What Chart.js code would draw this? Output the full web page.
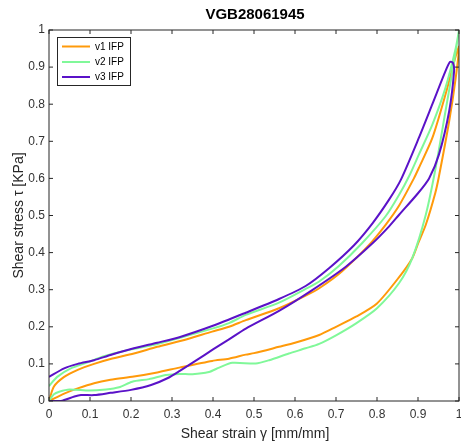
<!DOCTYPE html>
<html>
<head>
<meta charset="utf-8">
<script src="https://cdn.jsdelivr.net/npm/chart.js@4.4.1/dist/chart.umd.min.js"></script>
<style>
  html, body { margin: 0; padding: 0; background: #ffffff; }
  #wrap { width: 461px; height: 445px; position: relative; }
</style>
</head>
<body>
<div id="wrap"><canvas id="c" width="461" height="445"></canvas></div>
<script>
// ---- data ----
const chartTitle = 'VGB28061945';
const xAxisTitle = 'Shear strain \u03B3 [mm/mm]';
const yAxisTitle = 'Shear stress \u03C4 [KPa]';
const seriesNames = ['v1 IFP', 'v2 IFP', 'v3 IFP'];
const xTickLabels = ['0', '0.1', '0.2', '0.3', '0.4', '0.5', '0.6', '0.7', '0.8', '0.9', '1'];
const yTickLabels = ['0', '0.1', '0.2', '0.3', '0.4', '0.5', '0.6', '0.7', '0.8', '0.9', '1'];

const v1X = [0, 0.037, 0.07, 0.11, 0.15, 0.207, 0.264, 0.318, 0.398, 0.439, 0.48, 0.5, 0.561, 0.6, 0.659, 0.7, 0.75, 0.8, 0.854, 0.886, 0.9, 0.919, 0.942, 0.951, 0.976, 0.992, 1.0,
             0.992, 0.967, 0.935, 0.902, 0.89, 0.854, 0.821, 0.78, 0.715, 0.659, 0.626, 0.561, 0.48, 0.439, 0.398, 0.325, 0.264, 0.207, 0.15, 0.11, 0.07, 0.037, 0.012, 0];
const v1Y = [0, 0.02, 0.034, 0.048, 0.057, 0.066, 0.077, 0.09, 0.108, 0.114, 0.125, 0.129, 0.146, 0.157, 0.178, 0.2, 0.228, 0.263, 0.334, 0.385, 0.424, 0.475, 0.56, 0.605, 0.754, 0.871, 0.955,
             0.93, 0.826, 0.709, 0.628, 0.6, 0.527, 0.475, 0.42, 0.35, 0.304, 0.284, 0.25, 0.218, 0.2, 0.187, 0.163, 0.146, 0.128, 0.113, 0.1, 0.084, 0.065, 0.039, 0];

const v2X = [0, 0.012, 0.025, 0.05, 0.098, 0.139, 0.171, 0.203, 0.244, 0.285, 0.318, 0.35, 0.39, 0.415, 0.447, 0.504, 0.537, 0.585, 0.626, 0.659, 0.7, 0.75, 0.8, 0.854, 0.886, 0.919, 0.943, 0.967, 0.988, 1.0,
             0.992, 0.967, 0.935, 0.902, 0.88, 0.854, 0.821, 0.764, 0.707, 0.659, 0.626, 0.561, 0.48, 0.439, 0.398, 0.318, 0.25, 0.191, 0.134, 0.094, 0.053, 0.02, 0];
const v2Y = [0, 0.018, 0.025, 0.031, 0.028, 0.031, 0.037, 0.052, 0.059, 0.07, 0.073, 0.072, 0.078, 0.09, 0.103, 0.101, 0.11, 0.128, 0.142, 0.154, 0.177, 0.21, 0.25, 0.318, 0.385, 0.502, 0.628, 0.781, 0.915, 1.0,
             0.951, 0.844, 0.745, 0.664, 0.61, 0.556, 0.498, 0.426, 0.364, 0.322, 0.302, 0.265, 0.232, 0.21, 0.195, 0.17, 0.15, 0.137, 0.121, 0.104, 0.088, 0.065, 0.04];

const v3X = [0, 0.029, 0.062, 0.078, 0.11, 0.15, 0.2, 0.249, 0.29, 0.32, 0.36, 0.4, 0.439, 0.48, 0.561, 0.642, 0.724, 0.789, 0.829, 0.854, 0.9, 0.927, 0.951, 0.976, 0.988, 0.985, 0.978,
             0.967, 0.935, 0.902, 0.858, 0.829, 0.789, 0.744, 0.683, 0.626, 0.561, 0.48, 0.398, 0.318, 0.264, 0.207, 0.15, 0.11, 0.07, 0.037, 0];
const v3Y = [0, 0.0, 0.012, 0.016, 0.016, 0.022, 0.03, 0.043, 0.062, 0.082, 0.11, 0.139, 0.166, 0.195, 0.243, 0.299, 0.362, 0.425, 0.47, 0.502, 0.56, 0.6, 0.664, 0.781, 0.889, 0.912, 0.914,
             0.889, 0.8, 0.709, 0.596, 0.542, 0.479, 0.42, 0.358, 0.31, 0.275, 0.238, 0.202, 0.172, 0.157, 0.142, 0.124, 0.11, 0.1, 0.088, 0.065];

const seriesColors = ['#ff9a0a', '#80f899', '#5a12c8'];

function pts(xs, ys) { return xs.map((x, i) => ({ x: x, y: ys[i] })); }

const FONT = '"Liberation Sans", Arial, Helvetica, sans-serif';
const AXIS_COLOR = '#262626';

const framePlugin = {
  id: 'framePlugin',
  afterDatasetsDraw(chart) {
    const ctx = chart.ctx;
    const a = chart.chartArea;
    const xs = chart.scales.x, ys = chart.scales.y;
    ctx.save();
    ctx.strokeStyle = AXIS_COLOR;
    ctx.lineWidth = 1;
    ctx.strokeRect(a.left, a.top, a.right - a.left, a.bottom - a.top);
    const tl = 4;
    ctx.beginPath();
    xTickLabels.forEach((lab, i) => {
      const px = xs.getPixelForValue(i / 10);
      ctx.moveTo(px, a.bottom); ctx.lineTo(px, a.bottom - tl);
      ctx.moveTo(px, a.top); ctx.lineTo(px, a.top + tl);
    });
    yTickLabels.forEach((lab, i) => {
      const py = ys.getPixelForValue(i / 10);
      ctx.moveTo(a.left, py); ctx.lineTo(a.left + tl, py);
      ctx.moveTo(a.right, py); ctx.lineTo(a.right - tl, py);
    });
    ctx.stroke();

    // legend
    const lx = 57.5, ly = 37.5, lw = 73, lh = 48;
    ctx.fillStyle = '#ffffff';
    ctx.fillRect(lx, ly, lw, lh);
    ctx.strokeStyle = AXIS_COLOR;
    ctx.lineWidth = 1;
    ctx.strokeRect(lx, ly, lw, lh);
    ctx.font = '10px ' + FONT;
    ctx.textBaseline = 'middle';
    ctx.textAlign = 'left';
    const rows = [46.5, 62, 77];
    seriesNames.forEach((name, i) => {
      ctx.strokeStyle = seriesColors[i];
      ctx.lineWidth = 2;
      ctx.beginPath();
      ctx.moveTo(62, rows[i]); ctx.lineTo(90, rows[i]);
      ctx.stroke();
      ctx.fillStyle = '#000000';
      ctx.fillText(name, 95, rows[i] + 0.5);
    });
    ctx.restore();
  },
  afterDraw(chart) {
    const ctx = chart.ctx;
    const a = chart.chartArea;
    ctx.save();
    ctx.fillStyle = '#000000';
    ctx.textAlign = 'center';
    ctx.textBaseline = 'middle';
    ctx.font = 'bold 15px ' + FONT;
    ctx.fillText(chartTitle, (a.left + a.right) / 2 + 1, 15);
    ctx.fillStyle = AXIS_COLOR;
    ctx.font = '14px ' + FONT;
    ctx.fillText(xAxisTitle, (a.left + a.right) / 2 + 1, 434);
    ctx.translate(19, (a.top + a.bottom) / 2);
    ctx.rotate(-Math.PI / 2);
    ctx.fillText(yAxisTitle, 0, 0);
    ctx.restore();
  }
};

const ds = [
  { label: seriesNames[0], data: pts(v1X, v1Y), borderColor: seriesColors[0], order: 3 },
  { label: seriesNames[1], data: pts(v2X, v2Y), borderColor: seriesColors[1], order: 2 },
  { label: seriesNames[2], data: pts(v3X, v3Y), borderColor: seriesColors[2], order: 1 }
].map(d => Object.assign(d, {
  showLine: true, pointRadius: 0, pointHoverRadius: 0, borderWidth: 2,
  tension: 0.25, fill: false, backgroundColor: d.borderColor
}));

new Chart(document.getElementById('c'), {
  type: 'scatter',
  data: { datasets: ds },
  options: {
    responsive: false,
    animation: false,
    devicePixelRatio: 1,
    events: [],
    layout: { padding: { top: 30, right: 2, left: 0, bottom: 0 } },
    plugins: { legend: { display: false }, title: { display: false }, tooltip: { enabled: false } },
    scales: {
      x: {
        type: 'linear', min: 0, max: 1,
        grid: { display: false, drawTicks: false }, border: { display: false },
        ticks: {
          stepSize: 0.1, padding: 6, color: '#333333', maxRotation: 0, autoSkip: false,
          font: { family: FONT, size: 12 },
          callback: (v, i) => xTickLabels[Math.round(v * 10)]
        },
        afterFit: s => { s.height = 44; s.paddingLeft = 0; s.paddingRight = 0; }
      },
      y: {
        type: 'linear', min: 0, max: 1,
        grid: { display: false, drawTicks: false }, border: { display: false },
        ticks: {
          stepSize: 0.1, padding: 4, color: '#333333', autoSkip: false,
          font: { family: FONT, size: 12 },
          callback: (v, i) => yTickLabels[Math.round(v * 10)]
        },
        afterFit: s => { s.width = 49; s.paddingTop = 0; s.paddingBottom = 0; }
      }
    }
  },
  plugins: [framePlugin]
});
</script>
</body>
</html>
